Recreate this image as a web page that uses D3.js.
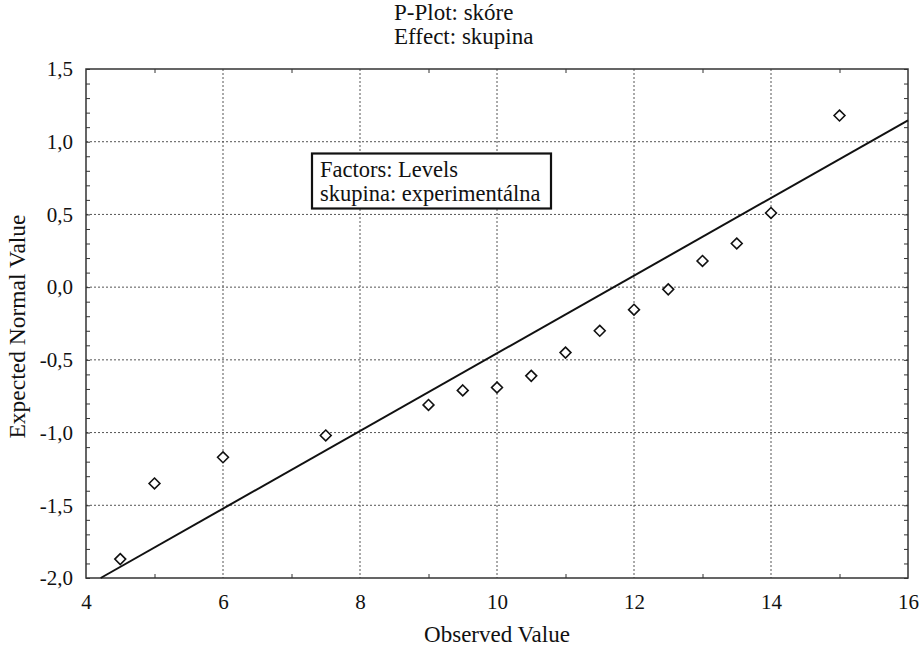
<!DOCTYPE html>
<html>
<head>
<meta charset="utf-8">
<script src="https://cdn.jsdelivr.net/npm/d3@7"></script>
<style>
  body { margin: 0; background: #fff; }
  text { font-family: "Liberation Serif", "Times New Roman", serif; fill: #111; }
</style>
</head>
<body>
<div id="chart"></div>
<script>
// observed values and their expected normal values
var observed = [4.5, 5, 6, 7.5, 9, 9.5, 10, 10.5, 11, 11.5, 12, 12.5, 13, 13.5, 14, 15];
var expected = [-1.87, -1.35, -1.17, -1.02, -0.81, -0.71, -0.69, -0.61, -0.45, -0.30, -0.155, -0.015, 0.18, 0.30, 0.51, 1.18];

// fitted line end points
var lineX = [4.214, 16];
var lineY = [-2.0, 1.147];

var xTicks = [4, 6, 8, 10, 12, 14, 16];
var yTicks = [1.5, 1.0, 0.5, 0.0, -0.5, -1.0, -1.5, -2.0];
var xMinor = [5, 7, 9, 11, 13, 15];
var yMinor = d3.range(-20, 16).map(function(d) { return d / 10; });

var titleLines = ["P-Plot: skóre", "Effect: skupina"];
var legendLines = ["Factors: Levels", "skupina: experimentálna"];

var W = 923, H = 649;
var margin = {top: 69, left: 86, right: 15, bottom: 71};
var width = W - margin.left - margin.right;
var height = H - margin.top - margin.bottom;

var svg = d3.select("#chart").append("svg")
  .attr("width", W)
  .attr("height", H);

var x = d3.scaleLinear().domain([4, 16]).range([0, width]);
var y = d3.scaleLinear().domain([-2, 1.5]).range([height, 0]);

var g = svg.append("g")
  .attr("transform", "translate(" + margin.left + "," + margin.top + ")");

// dotted grid
g.append("g")
  .attr("class", "grid")
  .selectAll("line.gx")
  .data(xTicks.slice(1, -1))
  .enter().append("line")
  .attr("x1", function(d) { return x(d); })
  .attr("x2", function(d) { return x(d); })
  .attr("y1", 0)
  .attr("y2", height);
g.select(".grid")
  .selectAll("line.gy")
  .data(yTicks.slice(1, -1))
  .enter().append("line")
  .attr("x1", 0)
  .attr("x2", width)
  .attr("y1", function(d) { return y(d); })
  .attr("y2", function(d) { return y(d); });
g.selectAll(".grid line")
  .style("stroke", "#555")
  .style("stroke-width", 1)
  .style("stroke-dasharray", "2,2");

// minor ticks (inward) on all four sides
function tickStyle(sel) {
  sel.select(".domain").remove();
  sel.selectAll("line").style("stroke", "#333").style("stroke-width", 1);
  sel.selectAll("text").remove();
}
g.append("g")
  .attr("transform", "translate(0," + height + ")")
  .call(d3.axisBottom(x).tickValues(xMinor).tickSize(-4))
  .call(tickStyle);
g.append("g")
  .call(d3.axisTop(x).tickValues(xMinor).tickSize(-4))
  .call(tickStyle);
g.append("g")
  .call(d3.axisLeft(y).tickValues(yMinor).tickSize(-4))
  .call(tickStyle);
g.append("g")
  .attr("transform", "translate(" + width + ",0)")
  .call(d3.axisRight(y).tickValues(yMinor).tickSize(-4))
  .call(tickStyle);

// tick labels
var xAxis = g.append("g")
  .attr("transform", "translate(0," + height + ")")
  .call(d3.axisBottom(x).tickValues(xTicks).tickSize(0).tickPadding(16));
xAxis.select(".domain").remove();
xAxis.selectAll("text")
  .style("font-size", "21px")
  .style("font-family", "'Liberation Serif', serif")
  .attr("fill", "#111");

var yAxis = g.append("g")
  .call(d3.axisLeft(y).tickValues(yTicks).tickSize(0).tickPadding(13)
    .tickFormat(function(d) { return d3.format(".1f")(d).replace(".", ",").replace("−", "-"); }));
yAxis.select(".domain").remove();
yAxis.selectAll("text")
  .style("font-size", "21px")
  .style("font-family", "'Liberation Serif', serif")
  .attr("fill", "#111");

// frame
g.append("rect")
  .attr("width", width)
  .attr("height", height)
  .style("fill", "none")
  .style("stroke", "#333")
  .style("stroke-width", 1.5);

// fitted line
var line = d3.line()
  .x(function(d) { return x(d[0]); })
  .y(function(d) { return y(d[1]); });
g.append("path")
  .datum(d3.zip(lineX, lineY))
  .attr("d", line)
  .style("fill", "none")
  .style("stroke", "#111")
  .style("stroke-width", 2);

// diamonds
var diamond = d3.symbol().type(d3.symbolDiamond2).size(75);
g.selectAll(".pt")
  .data(d3.zip(observed, expected))
  .enter().append("path")
  .attr("class", "pt")
  .attr("transform", function(d) { return "translate(" + x(d[0]) + "," + y(d[1]) + ")"; })
  .attr("d", diamond)
  .style("fill", "#fff")
  .style("stroke", "#111")
  .style("stroke-width", 1.6);

// legend box
svg.append("rect")
  .attr("x", 312)
  .attr("y", 153.5)
  .attr("width", 239)
  .attr("height", 55)
  .style("fill", "#fff")
  .style("stroke", "#111")
  .style("stroke-width", 2.2);
svg.selectAll(".leg")
  .data(legendLines)
  .enter().append("text")
  .attr("class", "leg")
  .attr("x", 320)
  .attr("y", function(d, i) { return 177 + i * 24; })
  .style("font-size", "22.5px")
  .text(function(d) { return d; });

// title
svg.selectAll(".title")
  .data(titleLines)
  .enter().append("text")
  .attr("class", "title")
  .attr("x", 394)
  .attr("y", function(d, i) { return 20 + i * 24; })
  .style("font-size", "23px")
  .text(function(d) { return d; });

// axis titles
svg.append("text")
  .attr("x", margin.left + width / 2)
  .attr("y", 642)
  .attr("text-anchor", "middle")
  .style("font-size", "23px")
  .text("Observed Value");

svg.append("text")
  .attr("transform", "translate(25," + (margin.top + height / 2 + 3) + ") rotate(-90)")
  .attr("text-anchor", "middle")
  .style("font-size", "23.5px")
  .text("Expected Normal Value");
</script>
</body>
</html>
